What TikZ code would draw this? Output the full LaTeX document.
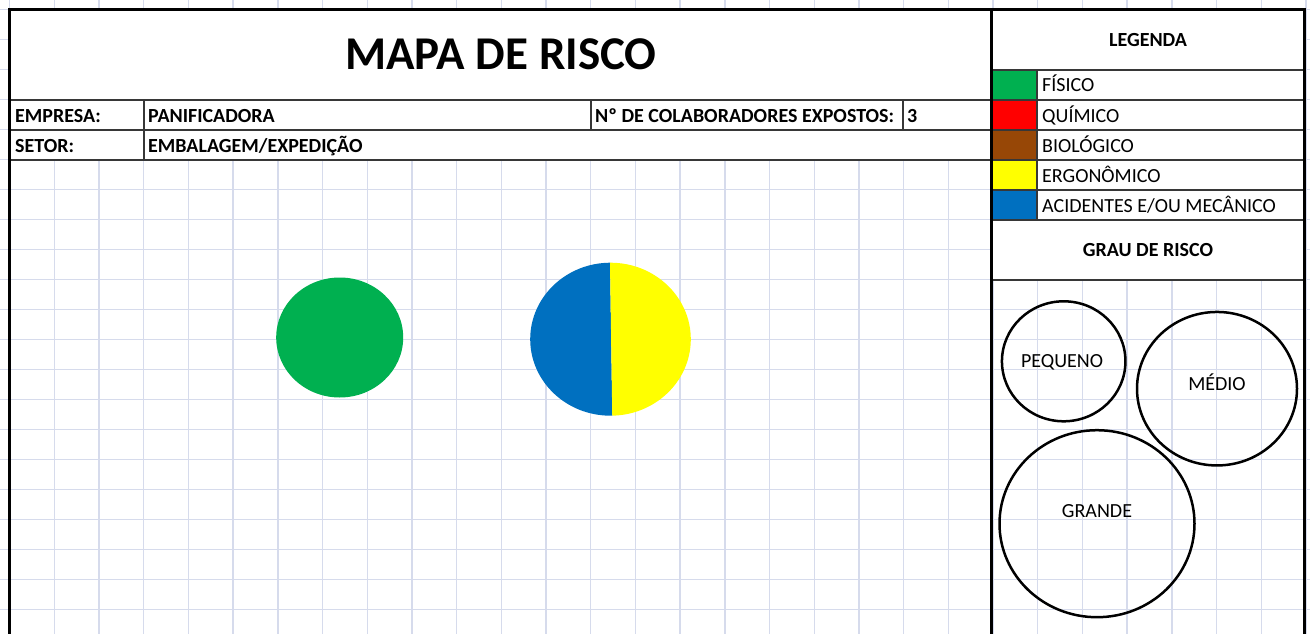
\documentclass[tikz,border=0pt]{standalone}
\usepackage{fontspec}
\setmainfont{Carlito}
\usetikzlibrary{shapes.geometric}

\definecolor{fisicogreen}{RGB}{0,176,80}
\definecolor{quimicored}{RGB}{255,0,0}
\definecolor{biobrown}{RGB}{151,71,6}
\definecolor{ergoyellow}{RGB}{255,255,0}
\definecolor{acidblue}{RGB}{0,112,192}
\definecolor{gridgray}{RGB}{214,219,236}
\definecolor{celldark}{RGB}{55,55,55}

\begin{document}
\begin{tikzpicture}[x=1pt, y=-1pt, node distance=30pt, auto,
	gridline/.style={line width=1.4pt, gridgray},
	cellline/.style={line width=1.3pt, celldark},
	frameline/.style={line width=3pt, black},
	celltext/.style={font=\bfseries\fontsize{20}{22}\selectfont, anchor=base west, inner sep=0pt},
	legendtext/.style={font=\fontsize{20}{22}\selectfont, anchor=base west, inner sep=0pt},
	headtext/.style={font=\bfseries\fontsize{20}{22}\selectfont, anchor=base, inner sep=0pt},
	swatch/.style={minimum width=45pt, minimum height=30pt, inner sep=0pt},
	riskcircle/.style={ellipse, draw, line width=2.5pt, inner sep=0pt},
	risktext/.style={font=\fontsize{20}{22}\selectfont, anchor=base, inner sep=0pt}]
		\useasboundingbox (0,0) rectangle (1310,634);
		
		% grid of the sheet
		\foreach \k in {0,...,29}
			\draw[gridline] (9.6+44.7*\k,0) -- (9.6+44.7*\k,634);
		\foreach \k in {0,...,20}
			\draw[gridline] (0,9.3+30*\k) -- (1310,9.3+30*\k);
		\fill[white] (9.5,9.3) rectangle (991,160);
		\fill[white] (991,9.3) rectangle (1304,280);
		
		% risks on the map
		\node [ellipse, fill=fisicogreen, minimum width=127pt, minimum height=120pt, inner sep=0pt] (riscofisico) at (339.7,337.5) {};
		\begin{scope}
		\clip (610.5,339.2) ellipse [x radius=80.3pt, y radius=76.5pt];
		\fill[acidblue] (520,255) -- (609.9,255) -- (612.4,425) -- (520,425) -- cycle;
		\fill[ergoyellow] (609.9,255) -- (700,255) -- (700,425) -- (612.4,425) -- cycle;
		\end{scope}
		
		% legend swatches
		\node [swatch, fill=fisicogreen] (fisico) at (1014,85) {};
		\node [swatch, fill=quimicored, below of=fisico] (quimico) {};
		\node [swatch, fill=biobrown, below of=quimico] (biologico) {};
		\node [swatch, fill=ergoyellow, below of=biologico] (ergonomico) {};
		\node [swatch, fill=acidblue, below of=ergonomico] (acidentes) {};
		
		% cell lines
		\draw[cellline]
		(9.5,100) -- (991,100);
		\draw[cellline]
		(9.5,130) -- (991,130);
		\draw[cellline]
		(9.5,160) -- (991,160);
		\draw[cellline]
		(144,100) -- (144,160);
		\draw[cellline]
		(591,100) -- (591,130);
		\draw[cellline]
		(903,100) -- (903,130);
		\foreach \y in {70,100,...,220}
			\draw[cellline] (991,\y) -- (1304,\y);
		\draw[cellline]
		(991,280) -- (1304,280);
		\draw[cellline]
		(1037,70) -- (1037,220);
		
		% frame
		\draw[frameline] (9.5,634) -- (9.5,9.3) -- (1304,9.3) -- (1304,634);
		\draw[frameline] (991,9.3) -- (991,634);
		
		% texts
		\node [font=\bfseries\fontsize{47}{52}\selectfont, anchor=base, inner sep=0pt] (titulo) at (501,70) {MAPA DE RISCO};
		\node [celltext] (empresa) at (15,122) {EMPRESA:};
		\node [celltext] (panificadora) at (148,122) {PANIFICADORA};
		\node [celltext] (colaboradores) at (595,122) {Nº DE COLABORADORES EXPOSTOS:};
		\node [celltext] (expostos) at (907,122) {3};
		\node [celltext] (setor) at (15,152) {SETOR:};
		\node [celltext] (embalagem) at (148,152) {EMBALAGEM/EXPEDIÇÃO};
		
		\node [headtext] (legenda) at (1148,46.5) {LEGENDA};
		\node [legendtext] (fisicotxt) at (1042,92) {FÍSICO};
		\node [legendtext] (quimicotxt) at (1042,122) {QUÍMICO};
		\node [legendtext] (biologicotxt) at (1042,152) {BIOLÓGICO};
		\node [legendtext] (ergonomicotxt) at (1042,182) {ERGONÔMICO};
		\node [legendtext] (acidentestxt) at (1042,212) {ACIDENTES E/OU MECÂNICO};
		\node [headtext] (grau) at (1148,256.5) {GRAU DE RISCO};
		
		% degree of risk
		\node [riskcircle, minimum width=123.5pt, minimum height=120pt] (pequeno) at (1063.7,361.3) {};
		\node [riskcircle, minimum width=160pt, minimum height=153.5pt] (medio) at (1217,388.7) {};
		\node [riskcircle, minimum width=195pt, minimum height=187pt] (grande) at (1097,523.7) {};
		\node [risktext] (pequenotxt) at (1062,367) {PEQUENO};
		\node [risktext] (mediotxt) at (1217,390) {MÉDIO};
		\node [risktext] (grandetxt) at (1097,517) {GRANDE};
		
		\end{tikzpicture}
\end{document}
